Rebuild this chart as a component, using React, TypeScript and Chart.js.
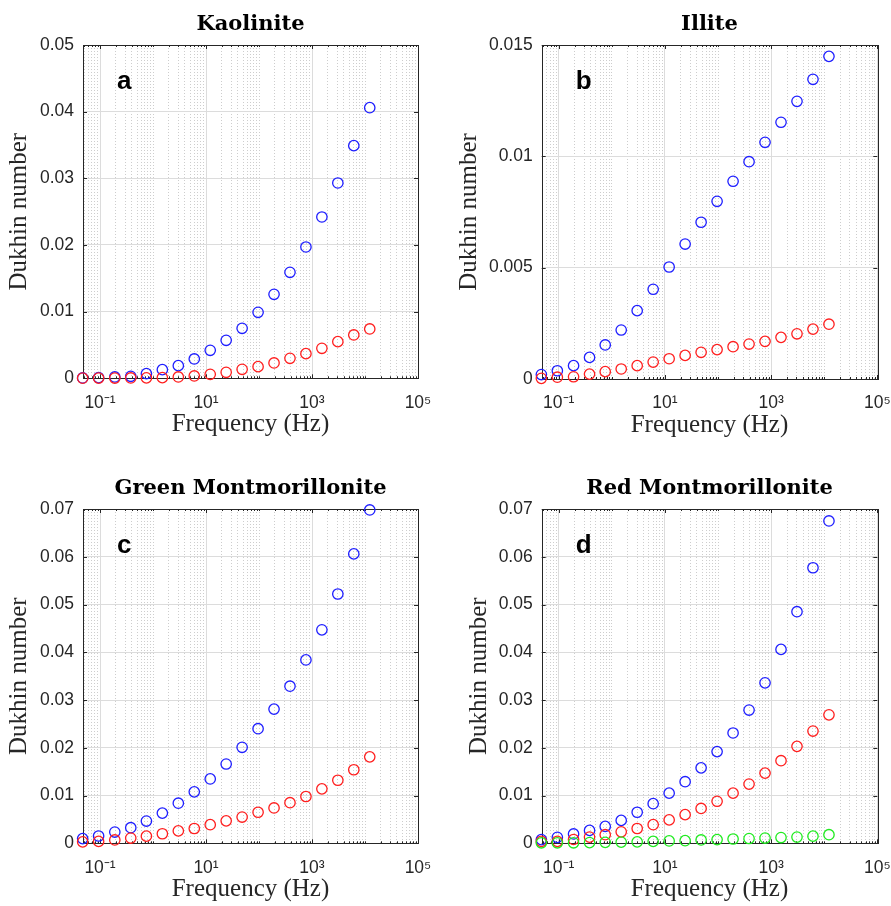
import React, { useEffect, useRef } from 'react';
import { Chart, registerables } from 'chart.js';

Chart.register(...registerables);

// ---------------- data ----------------
const frequencies = [0.047, 0.094, 0.19, 0.38, 0.75, 1.5, 3, 6, 12, 24, 48, 96, 192, 384, 768, 1536, 3072, 6144, 12288];

const kaoliniteBlue = [0.00005, 0.0001, 0.0002, 0.0003, 0.0007, 0.0013, 0.0019, 0.0029, 0.0042, 0.0057, 0.0075, 0.0099, 0.0126, 0.0159, 0.0197, 0.0242, 0.0293, 0.0349, 0.0406];
const kaoliniteRed = [0.00002, 0.00003, 0.00004, 0.00005, 0.00006, 0.0001, 0.0002, 0.00035, 0.0006, 0.0009, 0.00135, 0.00175, 0.0023, 0.003, 0.0037, 0.0045, 0.0055, 0.0065, 0.0074];

const illiteBlue = [0.0002, 0.00037, 0.0006, 0.00097, 0.00153, 0.0022, 0.00307, 0.00403, 0.00503, 0.00606, 0.00704, 0.00798, 0.00888, 0.00976, 0.01063, 0.01153, 0.01247, 0.01346, 0.01449];
const illiteRed = [0.00003, 0.00008, 0.0001, 0.00022, 0.00033, 0.00045, 0.0006, 0.00076, 0.00091, 0.00106, 0.0012, 0.00132, 0.00145, 0.00157, 0.00169, 0.00187, 0.00203, 0.00224, 0.00246];

const greenMontBlue = [0.00098, 0.00153, 0.00236, 0.00327, 0.00466, 0.00632, 0.0084, 0.01077, 0.01348, 0.0166, 0.0201, 0.024, 0.0281, 0.0329, 0.0384, 0.0447, 0.0522, 0.0606, 0.0698];
const greenMontRed = [0.0003, 0.0004, 0.0007, 0.0011, 0.0015, 0.002, 0.0026, 0.0031, 0.0039, 0.0047, 0.0055, 0.0065, 0.0074, 0.0085, 0.0098, 0.0114, 0.0132, 0.0154, 0.0181];

const redMontBlue = [0.00077, 0.00125, 0.00196, 0.0027, 0.00354, 0.0048, 0.0065, 0.0083, 0.0105, 0.0129, 0.0158, 0.0192, 0.0231, 0.0279, 0.0336, 0.0406, 0.0485, 0.0577, 0.0675];
const redMontRed = [0.0004, 0.0004, 0.0008, 0.0013, 0.0018, 0.0024, 0.0031, 0.0039, 0.0049, 0.006, 0.0073, 0.0088, 0.0105, 0.0124, 0.0147, 0.0173, 0.0203, 0.0235, 0.0269];
const redMontGreen = [0.0001, 0.0001, 0.0001, 0.00015, 0.0002, 0.00025, 0.0003, 0.0004, 0.0005, 0.00055, 0.0007, 0.00077, 0.0009, 0.001, 0.0011, 0.0012, 0.0013, 0.0015, 0.0018];

const panelTitles = ['Kaolinite', 'Illite', 'Green Montmorillonite', 'Red Montmorillonite'];
const panelLetters = ['a', 'b', 'c', 'd'];

const xMin = 0.0477;
const xMax = 100000;
const xTickValues = [0.1, 10, 1000, 100000];
const xTickLabels = ['10⁻¹', '10¹', '10³', '10⁵'];

const yTicksA = [0, 0.01, 0.02, 0.03, 0.04, 0.05];
const yLabelsA = ['0', '0.01', '0.02', '0.03', '0.04', '0.05'];
const yTicksB = [0, 0.005, 0.01, 0.015];
const yLabelsB = ['0', '0.005', '0.01', '0.015'];
const yTicksCD = [0, 0.01, 0.02, 0.03, 0.04, 0.05, 0.06, 0.07];
const yLabelsCD = ['0', '0.01', '0.02', '0.03', '0.04', '0.05', '0.06', '0.07'];

const xAxisLabel = 'Frequency (Hz)';
const yAxisLabel = 'Dukhin number';

// ---------------- styles ----------------
const BLUE = 'rgb(30,30,255)';
const RED = 'rgb(255,30,30)';
const GREEN = 'rgb(30,235,30)';
const AXIS = '#262626';

type Series = { values: number[]; color: string };

type PanelCfg = {
  left: number; top: number; width: number; height: number;
  plotLeft: number; plotRight: number; plotTop: number; plotBottom: number;
  titleBaseline: number; yTitleBaseline: number; xTitleBaseline: number;
  yMax: number; yTicks: number[]; yLabels: string[];
  title: string; letter: string; series: Series[];
};

const panels: PanelCfg[] = [
  {
    left: 0, top: 0, width: 445, height: 453,
    plotLeft: 83, plotRight: 418, plotTop: 45, plotBottom: 378.3,
    titleBaseline: 32.3, yTitleBaseline: 28.3, xTitleBaseline: 433,
    yMax: 0.05, yTicks: yTicksA, yLabels: yLabelsA,
    title: panelTitles[0], letter: panelLetters[0],
    series: [{ values: kaoliniteRed, color: RED }, { values: kaoliniteBlue, color: BLUE }],
  },
  {
    left: 445, top: 0, width: 446, height: 453,
    plotLeft: 96.7, plotRight: 432.3, plotTop: 45, plotBottom: 379,
    titleBaseline: 32.3, yTitleBaseline: 33.3, xTitleBaseline: 433.7,
    yMax: 0.015, yTicks: yTicksB, yLabels: yLabelsB,
    title: panelTitles[1], letter: panelLetters[1],
    series: [{ values: illiteRed, color: RED }, { values: illiteBlue, color: BLUE }],
  },
  {
    left: 0, top: 453, width: 445, height: 453,
    plotLeft: 83, plotRight: 418, plotTop: 56, plotBottom: 390.3,
    titleBaseline: 42.7, yTitleBaseline: 28.3, xTitleBaseline: 445.3,
    yMax: 0.07, yTicks: yTicksCD, yLabels: yLabelsCD,
    title: panelTitles[2], letter: panelLetters[2],
    series: [{ values: greenMontRed, color: RED }, { values: greenMontBlue, color: BLUE }],
  },
  {
    left: 445, top: 453, width: 446, height: 453,
    plotLeft: 96.7, plotRight: 432.3, plotTop: 56, plotBottom: 390.3,
    titleBaseline: 42.7, yTitleBaseline: 42.7, xTitleBaseline: 445.3,
    yMax: 0.07, yTicks: yTicksCD, yLabels: yLabelsCD,
    title: panelTitles[3], letter: panelLetters[3],
    series: [{ values: redMontGreen, color: GREEN }, { values: redMontRed, color: RED }, { values: redMontBlue, color: BLUE }],
  },
];

const isClose = (a: number, b: number) => Math.abs(Math.log10(a) - Math.log10(b)) < 1e-6;
const isMajorX = (v: number) => xTickValues.some((t) => isClose(t, v));

function xGridValues(): number[] {
  const out: number[] = [];
  for (let e = -2; e <= 4; e++) {
    for (let k = 1; k <= 9; k++) {
      const v = k * Math.pow(10, e);
      if (v >= xMin && v <= xMax) out.push(v);
    }
  }
  out.push(xMax);
  return out;
}

const TITLE_FONT = { family: '"DejaVu Serif"', size: 21, weight: 'bold' as const, lineHeight: 1.2 };
const LABEL_FONT = { family: '"Liberation Serif"', size: 25, lineHeight: 1.2 };
const TICK_FONT = { family: '"Liberation Sans"', size: 17.5, lineHeight: 1.2 };

const framePlugin = {
  id: 'matlabFrame',
  beforeDatasetsDraw(chart: any, _args: any, opts: any) {
    const { ctx, chartArea } = chart;
    const { left, right, top, bottom } = chartArea;
    const xs = chart.scales.x;
    const ys = chart.scales.y;
    ctx.save();
    ctx.strokeStyle = AXIS;
    ctx.lineWidth = 1;
    // inward ticks
    ctx.beginPath();
    xs.ticks.forEach((t: any) => {
      const px = Math.round(xs.getPixelForValue(t.value)) + 0.5;
      const len = isMajorX(t.value) ? 4 : 2;
      ctx.moveTo(px, bottom); ctx.lineTo(px, bottom - len);
      ctx.moveTo(px, top); ctx.lineTo(px, top + len);
    });
    ys.ticks.forEach((t: any) => {
      const py = Math.round(ys.getPixelForValue(t.value)) + 0.5;
      ctx.moveTo(left, py); ctx.lineTo(left + 4, py);
      ctx.moveTo(right, py); ctx.lineTo(right - 4, py);
    });
    ctx.stroke();
    // box
    ctx.strokeRect(Math.round(left) + 0.5, Math.round(top) + 0.5, Math.round(right - left), Math.round(bottom - top));
    // panel letter
    ctx.fillStyle = '#000';
    ctx.font = 'bold 26px "Liberation Sans"';
    ctx.textBaseline = 'alphabetic';
    ctx.textAlign = 'left';
    ctx.fillText(opts.letter, left + 34, top + 44);
    ctx.restore();
  },
};

function Panel({ cfg }: { cfg: PanelCfg }) {
  const ref = useRef<HTMLCanvasElement | null>(null);
  useEffect(() => {
    if (!ref.current) return;
    const gridValues = xGridValues();
    const tLine = TITLE_FONT.size * TITLE_FONT.lineHeight;
    const tPadTop = cfg.titleBaseline - 0.346 * TITLE_FONT.size - tLine / 2;
    const tPadBottom = cfg.plotTop - tLine - tPadTop;
    const lLine = LABEL_FONT.size * LABEL_FONT.lineHeight;
    const yTitlePad = cfg.yTitleBaseline - 0.3375 * LABEL_FONT.size - lLine / 2;
    const xTitlePad = cfg.height - (cfg.xTitleBaseline - 0.3375 * LABEL_FONT.size) - lLine / 2;

    const chart = new Chart(ref.current, {
      type: 'scatter',
      data: {
        datasets: cfg.series.map((s) => ({
          data: frequencies.map((f, i) => ({ x: f, y: s.values[i] })),
          borderColor: s.color,
          backgroundColor: 'rgba(0,0,0,0)',
          pointBackgroundColor: 'rgba(0,0,0,0)',
          pointBorderColor: s.color,
          pointRadius: 5.2,
          pointBorderWidth: 1.3,
          pointHoverRadius: 5.2,
          showLine: false,
          clip: false as any,
        })),
      },
      options: {
        responsive: false,
        animation: false,
        devicePixelRatio: 1,
        events: [],
        layout: { padding: { left: 0, top: 0, bottom: 0, right: cfg.width - cfg.plotRight } },
        plugins: {
          legend: { display: false },
          tooltip: { enabled: false },
          title: {
            display: true,
            text: cfg.title,
            fullSize: false,
            color: '#000',
            font: TITLE_FONT,
            padding: { top: tPadTop, bottom: tPadBottom },
          },
          matlabFrame: { letter: cfg.letter },
        } as any,
        scales: {
          x: {
            type: 'logarithmic',
            min: xMin,
            max: xMax,
            bounds: 'data',
            afterBuildTicks: (scale: any) => {
              scale.ticks = gridValues.map((v) => ({ value: v, major: false }));
            },
            afterFit: (scale: any) => {
              scale.height = cfg.height - cfg.plotBottom;
              scale.paddingLeft = 0; scale.paddingRight = 0; scale.paddingTop = 0; scale.paddingBottom = 0;
            },
            ticks: {
              autoSkip: false,
              maxRotation: 0,
              minRotation: 0,
              padding: 14,
              color: AXIS,
              font: TICK_FONT,
              callback: (value: any) => {
                const i = xTickValues.findIndex((t) => isClose(t, Number(value)));
                return i >= 0 ? xTickLabels[i] : '';
              },
            },
            grid: {
              drawTicks: false,
              lineWidth: 1,
              color: (c: any) => (c.type === 'tick' && isMajorX(c.tick.value) ? '#dcdcdc' : '#cdcdcd'),
            },
            border: {
              display: false,
              dash: (c: any) => (c.type === 'tick' && !isMajorX(c.tick.value) ? [1, 2] : []),
            },
            title: {
              display: true,
              text: xAxisLabel,
              color: AXIS,
              font: LABEL_FONT,
              padding: { top: 0, bottom: xTitlePad },
            },
          },
          y: {
            type: 'linear',
            min: 0,
            max: cfg.yMax,
            afterBuildTicks: (scale: any) => {
              scale.ticks = cfg.yTicks.map((v) => ({ value: v }));
            },
            afterFit: (scale: any) => {
              scale.width = cfg.plotLeft;
              scale.paddingLeft = 0; scale.paddingRight = 0; scale.paddingTop = 0; scale.paddingBottom = 0;
            },
            ticks: {
              autoSkip: false,
              padding: 9,
              color: AXIS,
              font: TICK_FONT,
              callback: (_v: any, index: number) => cfg.yLabels[index] ?? '',
            },
            grid: {
              drawTicks: false,
              lineWidth: 1,
              color: '#dcdcdc',
            },
            border: { display: false },
            title: {
              display: true,
              text: yAxisLabel,
              color: AXIS,
              font: LABEL_FONT,
              padding: { top: yTitlePad, bottom: 0 },
            },
          },
        } as any,
      },
      plugins: [framePlugin],
    } as any);
    return () => chart.destroy();
  }, [cfg]);
  return (
    <canvas
      ref={ref}
      width={cfg.width}
      height={cfg.height}
      style={{ position: 'absolute', left: cfg.left, top: cfg.top, width: cfg.width, height: cfg.height }}
    />
  );
}

export default function App() {
  return (
    <div style={{ position: 'absolute', left: 0, top: 0, width: 891, height: 906, background: '#fff', overflow: 'hidden' }}>
      {panels.map((p, i) => (
        <Panel key={i} cfg={p} />
      ))}
    </div>
  );
}
